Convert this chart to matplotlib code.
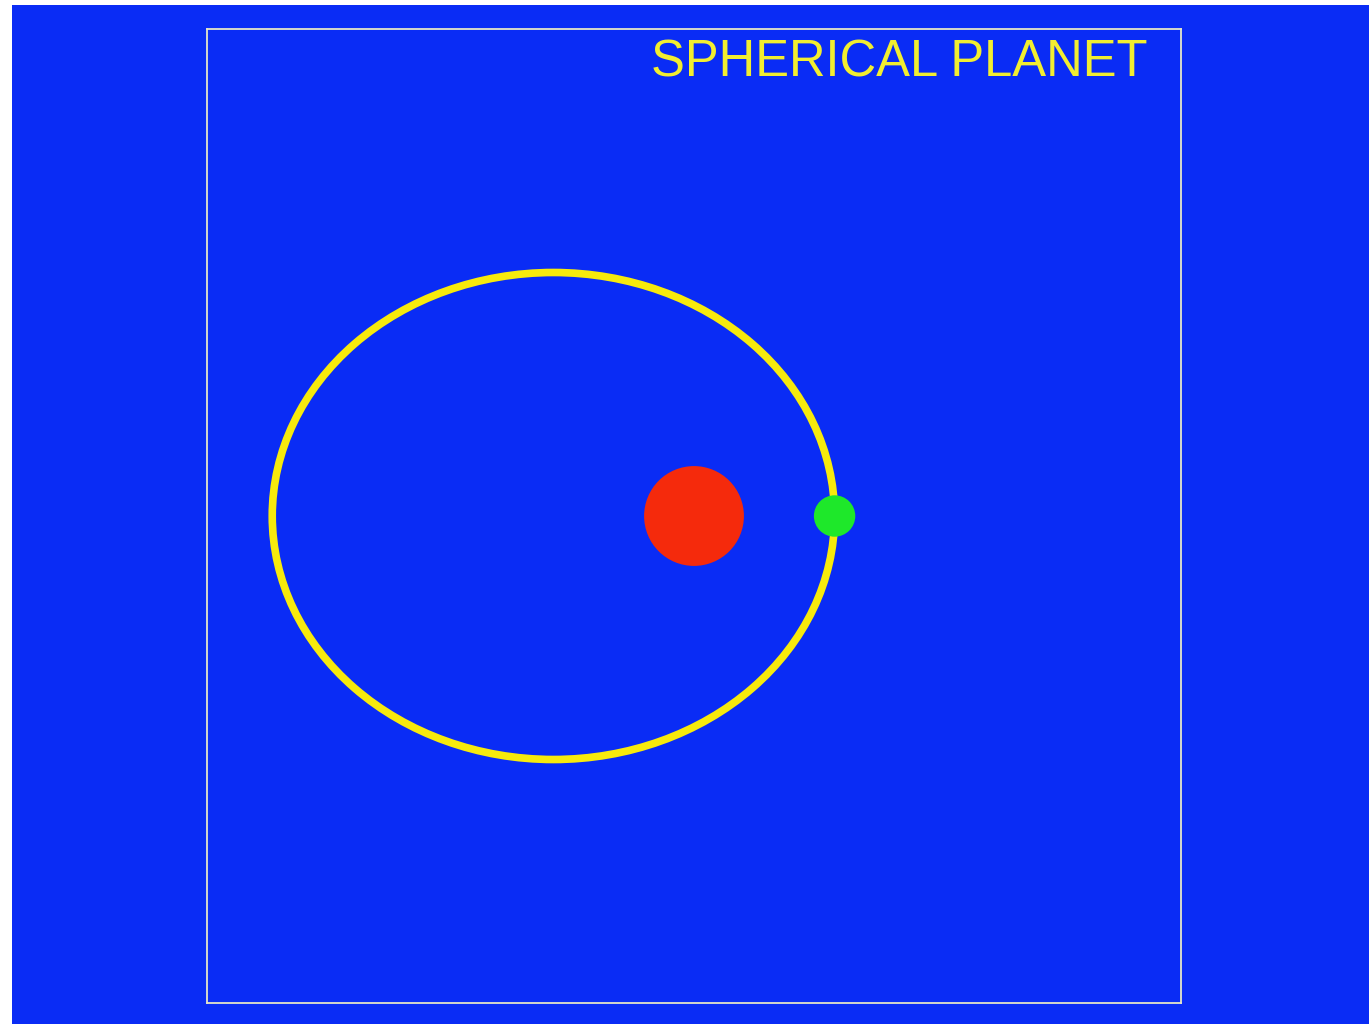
import matplotlib
matplotlib.use('Agg')
import matplotlib.pyplot as plt
from matplotlib.patches import Ellipse, Circle, Rectangle
import numpy as np

# orbit data (axes units, sun at the origin / focus)
semi_major = 2 / np.sqrt(3)
eccentricity = 0.5
sun_radius = 0.205
planet_radius = 0.085
title = 'SPHERICAL PLANET'

bg_blue = '#0a2cf5'
orbit_yellow = '#f7ea0c'


def draw_orbit():
    fig = plt.figure(figsize=(13.69, 10.24), dpi=100)
    fig.patch.set_facecolor('white')
    fig.patches.append(Rectangle((12 / 1369, 0), 1 - 12 / 1369, 1 - 5 / 1024,
                                 transform=fig.transFigure, facecolor=bg_blue,
                                 edgecolor='none', zorder=-10))

    ax = fig.add_axes([207 / 1369, 21 / 1024, 974 / 1369, 974 / 1024])
    ax.set_facecolor(bg_blue)
    ax.set_xlim(-2, 2)
    ax.set_ylim(-2, 2)
    ax.set_xticks([])
    ax.set_yticks([])
    for s in ax.spines.values():
        s.set_color('#e6e6c8')
        s.set_linewidth(1.3)

    c = semi_major * eccentricity
    b = semi_major * np.sqrt(1 - eccentricity ** 2)
    ax.add_patch(Ellipse((-c, 0), 2 * semi_major, 2 * b, fill=False,
                         edgecolor=orbit_yellow, linewidth=5.5, zorder=2))
    ax.add_patch(Circle((0, 0), sun_radius, facecolor='#f52a0c',
                        edgecolor='none', zorder=3))
    ax.add_patch(Circle((semi_major - c, 0), planet_radius, facecolor='#1ee82a',
                        edgecolor='none', zorder=4))

    ax.text(1.864, 1.805, title, ha='right', va='baseline', color='#f2ee30',
            fontsize=36.5, family='Liberation Sans')

    fig.savefig('out.png', dpi=100, facecolor=fig.get_facecolor())
    plt.close(fig)


if __name__ == '__main__':
    draw_orbit()
